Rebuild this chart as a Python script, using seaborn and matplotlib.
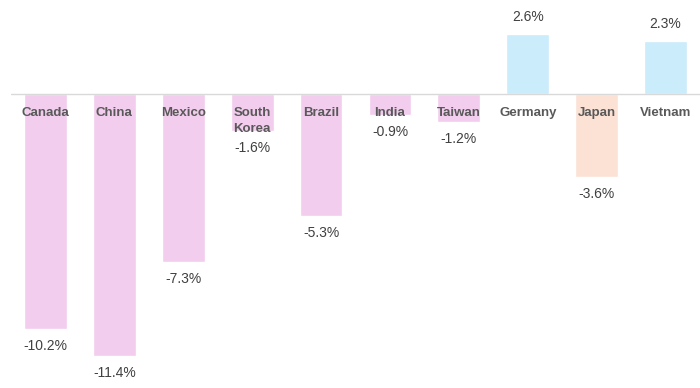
import pandas as pd
import matplotlib.pyplot as plt
import seaborn as sns

# data
countries = ['Canada', 'China', 'Mexico', 'South\nKorea', 'Brazil', 'India', 'Taiwan', 'Germany', 'Japan', 'Vietnam']
change = [-10.2, -11.4, -7.3, -1.6, -5.3, -0.9, -1.2, 2.6, -3.6, 2.3]
group = ['neg', 'neg', 'neg', 'neg', 'neg', 'neg', 'neg', 'pos', 'jp', 'pos']

df = pd.DataFrame({'country': countries, 'change': change, 'group': group})
colors = {'neg': '#f2cdee', 'pos': '#caecfb', 'jp': '#fbe2d5'}

sns.set_theme(style='white')
plt.rcParams['font.family'] = ['Liberation Sans', 'DejaVu Sans']

fig = plt.figure(figsize=(7, 3.88), dpi=100)
ax = fig.add_axes([11 / 700, 0, 689 / 700, 1])

sns.barplot(data=df, x='country', y='change', hue='group', palette=colors,
            dodge=False, width=0.62, saturation=1, legend=False, ax=ax)

ax.set_ylim(-12.78, 4.08)
ax.set_xlim(-0.5, len(countries) - 0.5)
ax.axhline(0, color='#d9d9d9', lw=1, zorder=3)

for i, (c, v) in enumerate(zip(countries, change)):
    ax.annotate(c, (i, 0), xytext=(0, -13), textcoords='offset pixels',
                ha='center', va='top', fontsize=9.5, fontweight='bold',
                color='#595959', linespacing=1.45, zorder=4)
    off = 17 if v > 0 else -17
    ax.annotate(f'{v:.1f}%', (i, v), xytext=(0, off), textcoords='offset pixels',
                ha='center', va='center', fontsize=10, color='#404040')

ax.axis('off')
fig.savefig('out.png', dpi=100)
